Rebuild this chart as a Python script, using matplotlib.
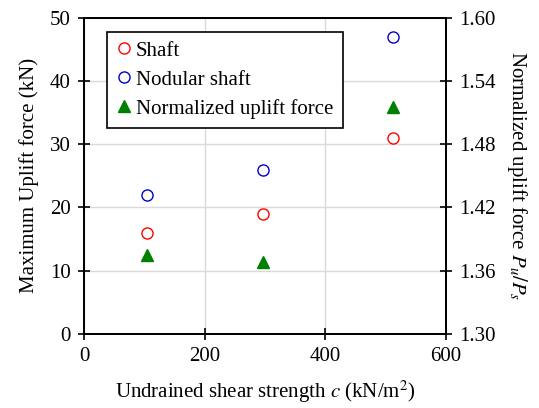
import matplotlib
matplotlib.use("Agg")
import matplotlib.pyplot as plt

plt.rcParams['font.family'] = ['Liberation Serif', 'DejaVu Serif']
plt.rcParams['mathtext.fontset'] = 'stix'

c_vals = [105, 297, 513]
shaft = [16, 19, 31]
nodular = [22, 26, 47]
normalized = [1.3745, 1.368, 1.515]

x_ticks = [0, 200, 400, 600]
left_ticks = [0, 10, 20, 30, 40, 50]
right_ticks = [1.30, 1.36, 1.42, 1.48, 1.54, 1.60]

fig = plt.figure(figsize=(5.39, 4.08), dpi=100)
ax = fig.add_axes([0.1558, 0.1814, 0.6716, 0.7753])
ax2 = ax.twinx()

h1, = ax.plot(c_vals, shaft, 'o', mfc='none', mec='red', ms=8, mew=1.0, label='Shaft', zorder=3)
h2, = ax.plot(c_vals, nodular, 'o', mfc='none', mec='#0000cc', ms=8, mew=1.0, label='Nodular shaft', zorder=3)
h3, = ax2.plot(c_vals, normalized, '^', color='green', ms=8, label='Normalized uplift force', zorder=3)

ax.set_xlim(0, 600)
ax.set_ylim(0, 50)
ax2.set_ylim(1.30, 1.60)
ax.set_xticks(x_ticks)
ax.set_yticks(left_ticks)
ax2.set_yticks(right_ticks)
ax2.set_yticklabels([f'{t:.2f}' for t in right_ticks])

ax.grid(True, color='#d9d9d9', lw=1.0)
ax.set_axisbelow(True)

for a in (ax, ax2):
    for s in a.spines.values():
        s.set_linewidth(1.3)
        s.set_color('black')
ax.tick_params(axis='both', direction='inout', length=9, width=1.2, labelsize=15, pad=5)
ax2.tick_params(axis='y', direction='inout', length=9, width=1.2, labelsize=15, pad=5)

ax.set_xlabel('Undrained shear strength $c$ (kN/m$^2$)', fontsize=15, labelpad=9)
ax.set_ylabel('Maximum Uplift force (kN)', fontsize=15, labelpad=8)
ax2.set_ylabel('Normalized uplift force $P_u/P_s$', fontsize=15, rotation=270, labelpad=24)

leg = ax.legend(handles=[h1, h2, h3], loc='upper left', bbox_to_anchor=(0.063, 0.956),
                fontsize=15, frameon=True, fancybox=False, framealpha=1,
                edgecolor='black', handlelength=0.8, handletextpad=0.15,
                borderpad=0.45, labelspacing=0.45, borderaxespad=0)
leg.get_frame().set_linewidth(1.2)

fig.savefig('out.png', dpi=100)
